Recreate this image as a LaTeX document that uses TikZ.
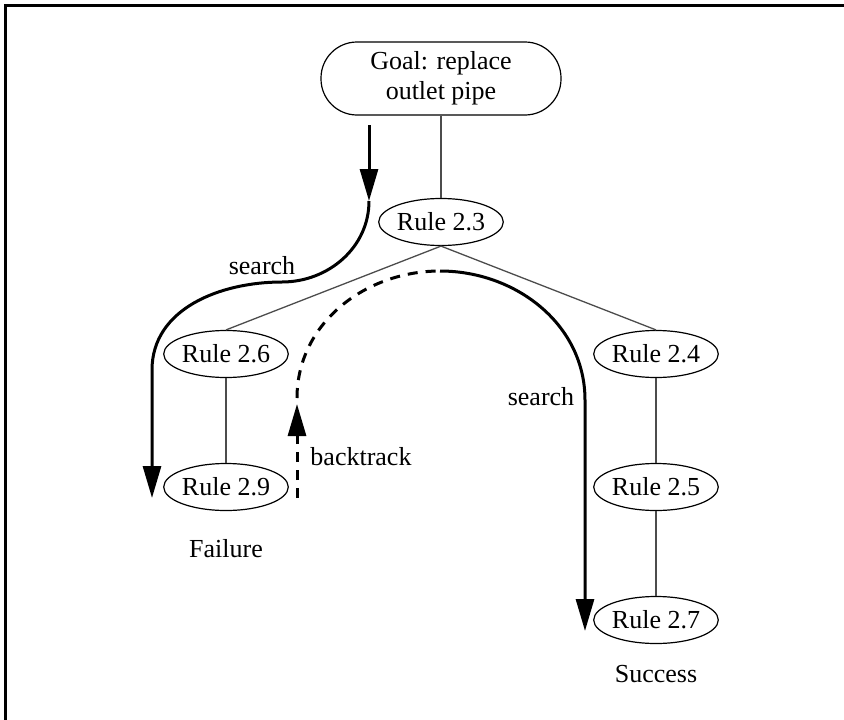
\documentclass[tikz,border=0pt]{standalone}
\usepackage{fontspec}
\setmainfont{Liberation Serif}
\usetikzlibrary{shapes.geometric,arrows.meta}
\begin{document}
\begin{tikzpicture}[x=1pt,y=-1pt,
  every node/.style={font=\fontsize{26}{30}\selectfont},
  rulenode/.style={draw, ellipse, line width=1.2pt, minimum width=120pt, minimum height=47pt, inner sep=0pt},
  goalnode/.style={draw, rounded corners=36pt, line width=1.2pt, minimum width=240pt, minimum height=73pt, align=center, inner sep=0pt},
  link/.style={draw=black!70, line width=1.3pt},
  tipstyle/.style={-{Triangle[length=32pt,width=18pt]}},
  searchline/.style={line width=3pt},
  backline/.style={line width=3pt, dash pattern=on 10pt off 8pt},
  textlabel/.style={inner sep=0pt}
]
\useasboundingbox (0,0) rectangle (844,720);
% frame (left and top edges)
\draw[line width=3pt] (5,720) -- (5,5) -- (844,5);

% nodes
\node[goalnode] (goal) at (441,78.5) {Goal: replace\\outlet pipe};
\node[rulenode] (r23) at (441,222) {Rule 2.3};
\node[rulenode] (r26) at (226,354) {Rule 2.6};
\node[rulenode] (r29) at (226,487) {Rule 2.9};
\node[rulenode] (r24) at (656,354) {Rule 2.4};
\node[rulenode] (r25) at (656,487) {Rule 2.5};
\node[rulenode] (r27) at (656,620) {Rule 2.7};

\node[textlabel] (fail) at (226,549) {Failure};
\node[textlabel] (succ) at (656,674) {Success};

% tree links
\draw[link] (goal.south) -- (r23.north);
\draw[link] (r23.south) -- (r26.north);
\draw[link] (r23.south) -- (r24.north);
\draw[link] (r26.south) -- (r29.north);
\draw[link] (r24.south) -- (r25.north);
\draw[link] (r25.south) -- (r27.north);

% left search path
\coordinate (s1a) at (369,125);
\coordinate (s1b) at (369,201);
\coordinate (s1c) at (282,282);
\coordinate (s1d) at (152,370);
\coordinate (s1e) at (152,498);
\draw[searchline,tipstyle] (s1a) -- (s1b);
\draw[searchline,tipstyle] (s1b) to[out=-90,in=0] (s1c) to[out=180,in=90] (s1d) -- (s1e);
\node[textlabel] (search1) at (262,266) {search};

% backtrack path
\coordinate (b0) at (297,498);
\coordinate (b1) at (297,404);
\coordinate (b2) at (297,398);
\coordinate (top) at (440,271);
\draw[backline,tipstyle] (b0) -- (b1);
\draw[backline] (b2) to[out=90,in=180] (top);
\node[textlabel] (back) at (361,457) {backtrack};

% right search path
\coordinate (s2a) at (585,400);
\coordinate (s2b) at (585,631);
\draw[searchline,tipstyle] (top) to[out=0,in=90] (s2a) -- (s2b);
\node[textlabel] (search2) at (541,397) {search};
\end{tikzpicture}
\end{document}
